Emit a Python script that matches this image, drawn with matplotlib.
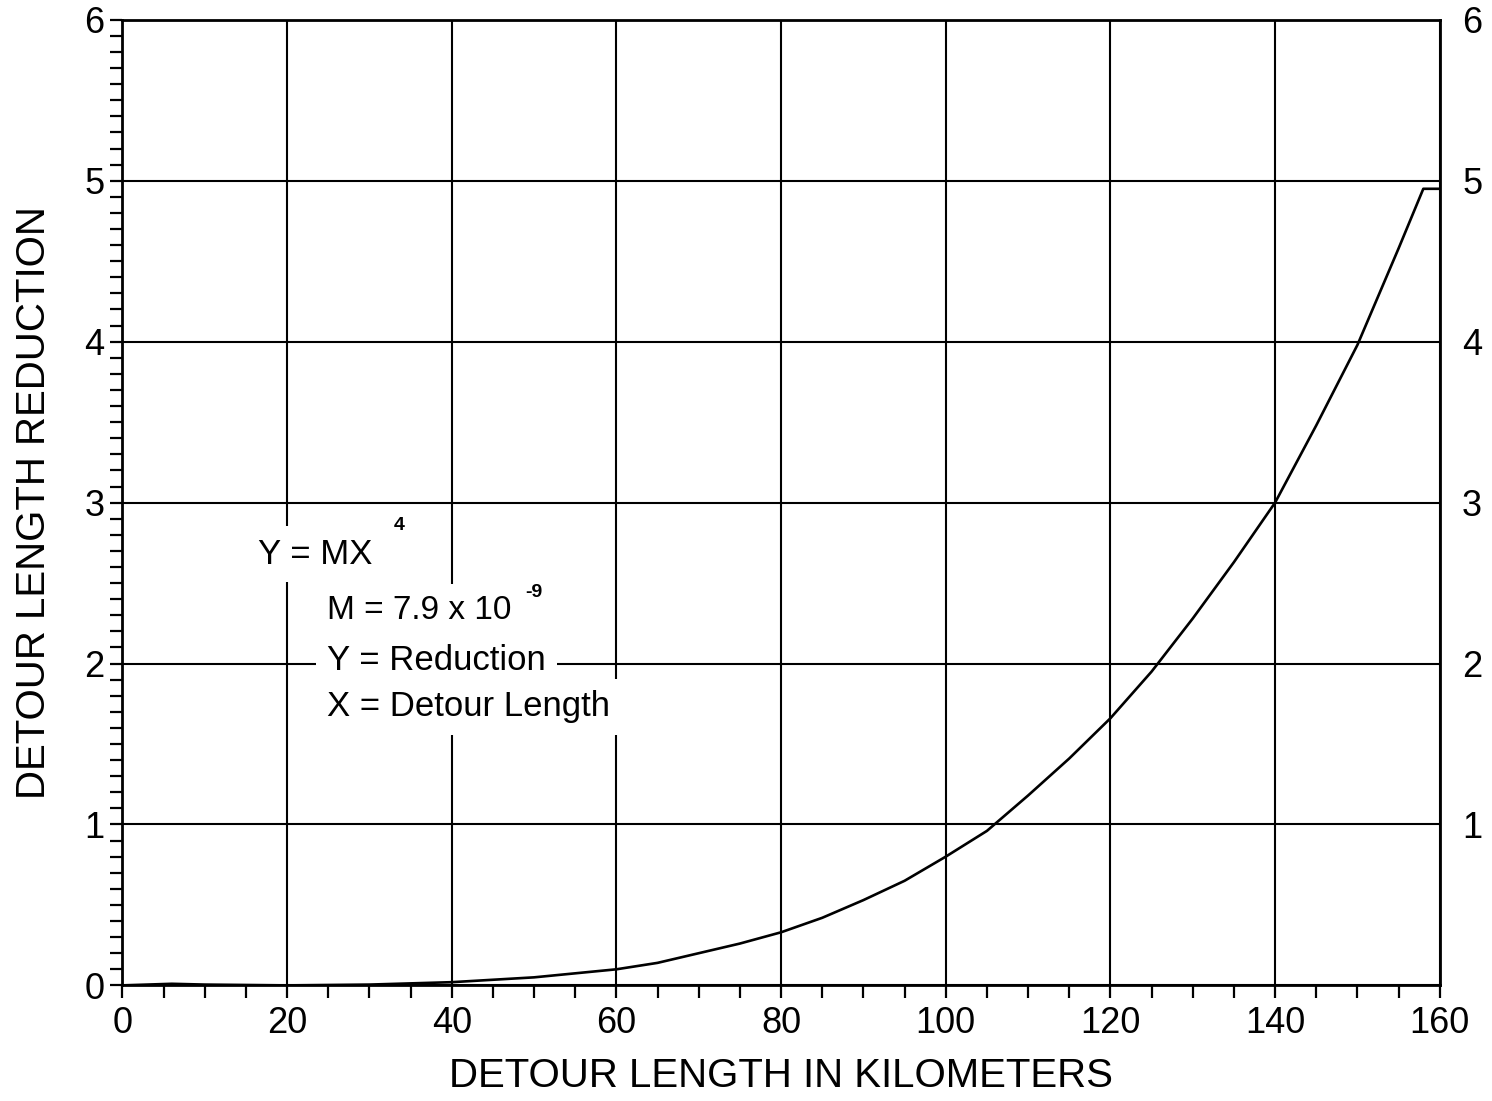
import matplotlib
matplotlib.use("Agg")
import matplotlib.pyplot as plt
from matplotlib.ticker import MultipleLocator

plt.rcParams['font.family'] = ['Liberation Sans', 'DejaVu Sans']

# values
detourKm = [0, 6, 10, 20, 30, 40, 45, 50, 55, 60, 65, 70, 75, 80, 85, 90, 95, 100, 105, 110, 115, 120, 125, 130, 135, 140, 145, 150, 155, 158, 160]
reduction = [0.0, 0.01, 0.005, 0.0, 0.005, 0.02, 0.035, 0.05, 0.075, 0.1, 0.14, 0.2, 0.26, 0.33, 0.42, 0.53, 0.65, 0.8, 0.96, 1.18, 1.41, 1.66, 1.95, 2.28, 2.63, 3.0, 3.48, 3.98, 4.58, 4.95, 4.95]

xTicks = [0, 20, 40, 60, 80, 100, 120, 140, 160]
yTicksLeft = [0, 1, 2, 3, 4, 5, 6]
yTicksRight = [1, 2, 3, 4, 5, 6]

fig = plt.figure(figsize=(14.92, 11.01), dpi=100)
ax = fig.add_axes([0.082, 0.105, 0.883, 0.877])

ax.set_xlim(0, 160)
ax.set_ylim(0, 6)

ax.grid(True, which='major', color='black', linewidth=1.5, zorder=1)
ax.plot(detourKm, reduction, color='black', linewidth=1.9, zorder=3)

for side in ax.spines.values():
    side.set_linewidth(2.0)

ax.set_xticks(xTicks)
ax.set_yticks(yTicksLeft)
ax.xaxis.set_minor_locator(MultipleLocator(5))
ax.yaxis.set_minor_locator(MultipleLocator(0.1))
ax.tick_params(axis='both', which='both', direction='out', length=9, width=1.6, labelsize=26, pad=6)
ax.tick_params(axis='y', which='both', pad=4)

ax2 = ax.twinx()
ax2.set_ylim(0, 6)
ax2.set_yticks(yTicksRight)
ax2.tick_params(axis='y', length=0, labelsize=26, pad=16)
for side in ax2.spines.values():
    side.set_visible(False)

ax.set_xlabel('DETOUR LENGTH IN KILOMETERS', fontsize=29, labelpad=11)
ax.set_ylabel('DETOUR LENGTH REDUCTION', fontsize=29, labelpad=22)

box = dict(facecolor='white', edgecolor='none', pad=8)
ax.text(16.5, 2.68, 'Y = MX', fontsize=25, ha='left', va='center', bbox=box, zorder=4)
ax.text(33.0, 2.86, '4', fontsize=14, fontweight='bold', ha='left', va='center', zorder=5)
ax.text(24.9, 2.33, 'M = 7.9 x 10', fontsize=24, ha='left', va='center', bbox=box, zorder=4)
ax.text(48.9, 2.44, '-9', fontsize=14, fontweight='bold', ha='left', va='center', zorder=5)
ax.text(24.9, 2.02, 'Y = Reduction', fontsize=25, ha='left', va='center', bbox=box, zorder=4)
ax.text(24.9, 1.73, 'X = Detour Length', fontsize=25, ha='left', va='center', bbox=box, zorder=4)

fig.savefig('out.png', dpi=100)
